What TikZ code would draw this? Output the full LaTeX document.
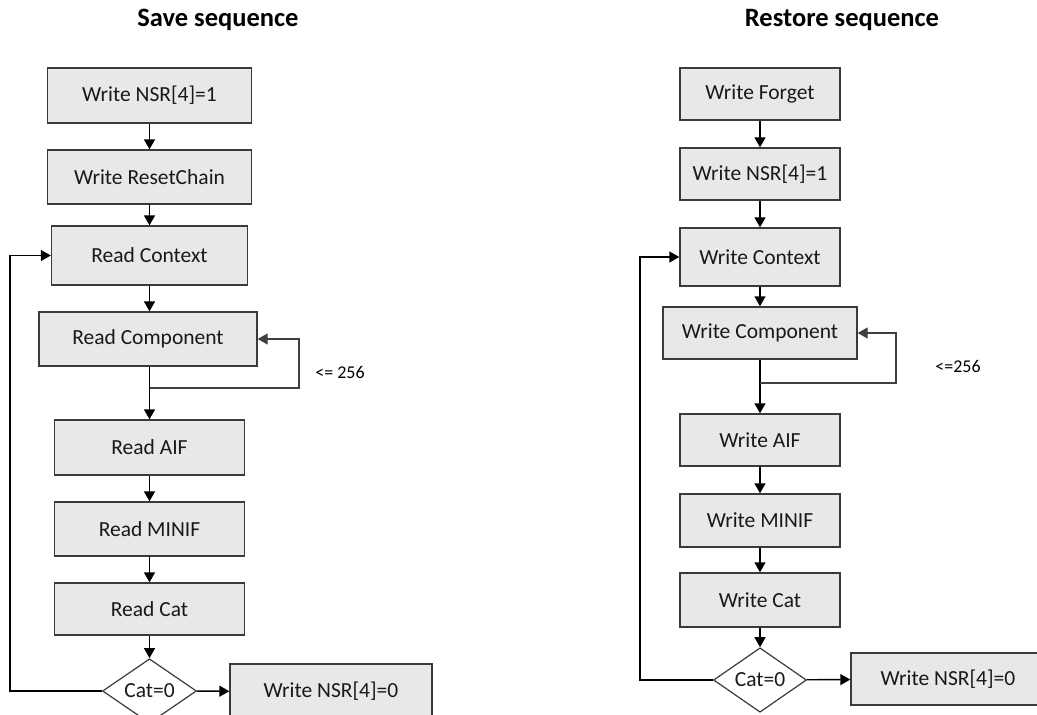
\documentclass[tikz,border=0pt]{standalone}
\usepackage{fontspec}
\setmainfont{Carlito}
\usetikzlibrary{arrows.meta,shapes.geometric}
\definecolor{boxfill}{HTML}{E8E8E8}
\definecolor{boxline}{HTML}{3A3A3A}
\begin{document}
\begin{tikzpicture}[x=1pt,y=-1pt,
  proc/.style={draw=boxline, fill=boxfill, line width=1.4pt, rectangle, inner sep=0pt,
    font=\fontsize{21.5}{24}\selectfont, text=black!90},
  decide/.style={draw=boxline, fill=white, line width=1.2pt, diamond, inner sep=0pt,
    font=\fontsize{21.5}{24}\selectfont, text=black!90},
  arr/.style={draw=black, line width=1.4pt, -{Triangle[length=10pt,width=11pt]}},
  loopline/.style={draw=black!75, line width=1.4pt, -{Triangle[length=10pt,width=11pt]}},
  ttl/.style={font=\fontsize{26.5}{30}\selectfont\bfseries, inner sep=0pt},
  lbl/.style={font=\fontsize{18}{21}\selectfont, inner sep=0pt}]
\useasboundingbox (0,0) rectangle (1037,715);
\clip (0,0) rectangle (1037,715);

% ---- titles
\node[ttl] (tS) at (218,20) {Save sequence};
\node[ttl] (tR) at (842,20) {Restore sequence};

% ---- Save sequence
\node[proc, minimum width=204, minimum height=55] (L1) at (149.5,95.5) {Write NSR[4]=1};
\node[proc, minimum width=204, minimum height=54] (L2) at (149.5,177) {Write ResetChain};
\node[proc, minimum width=196, minimum height=59] (L3) at (149.5,255.5) {Read Context};
\node[proc, minimum width=218, minimum height=54] (L4) at (148,339) {Read Component};
\node[proc, minimum width=190, minimum height=55] (L5) at (149.5,447.5) {Read AIF};
\node[proc, minimum width=190, minimum height=54] (L6) at (149.5,529) {Read MINIF};
\node[proc, minimum width=190, minimum height=52] (L7) at (149.5,609) {Read Cat};
\node[decide, minimum width=94, minimum height=52] (LD) at (149.5,691) {Cat=0};
\node[proc, minimum width=202, minimum height=55] (L8) at (331,691.5) {Write NSR[4]=0};
\node[lbl] (Llbl) at (340,372) {<= 256};

\coordinate (Lj) at (149.5,388);
\coordinate (Lr) at (299,388);
\coordinate (Lb) at (10,691);

\draw[arr] (L1) -- (L2);
\draw[arr] (L2) -- (L3);
\draw[arr] (L3) -- (L4.north -| L3.south);
\draw[arr] (L4.south -| L5.north) -- (L5);
\draw[arr] (L5) -- (L6);
\draw[arr] (L6) -- (L7);
\draw[arr] (L7) -- (LD);
\draw[arr] (LD) -- (L8);
\draw[loopline] (Lj) -- (Lr) |- (L4.east);
\draw[arr] (LD.west) -- (Lb) |- (L3.west);

% ---- Restore sequence
\node[proc, minimum width=160, minimum height=52] (R1) at (760,94) {Write Forget};
\node[proc, minimum width=160, minimum height=52] (R2) at (760,174) {Write NSR[4]=1};
\node[proc, minimum width=160, minimum height=58] (R3) at (760,257) {Write Context};
\node[proc, minimum width=194, minimum height=52] (R4) at (760,333) {Write Component};
\node[proc, minimum width=160, minimum height=52] (R5) at (760,440) {Write AIF};
\node[proc, minimum width=160, minimum height=53] (R6) at (760,520.5) {Write MINIF};
\node[proc, minimum width=160, minimum height=54] (R7) at (760,600) {Write Cat};
\node[decide, minimum width=93, minimum height=54] (RD) at (760,680) {Cat=0};
\node[proc, minimum width=194, minimum height=52] (R8) at (948,679) {Write NSR[4]=0};
\node[lbl] (Rlbl) at (958,366) {<=256};

\coordinate (Rj) at (760,383);
\coordinate (Rr) at (896,383);
\coordinate (Rb) at (640,680);

\draw[arr] (R1) -- (R2);
\draw[arr] (R2) -- (R3);
\draw[arr] (R3) -- (R4);
\draw[arr] (R4) -- (R5);
\draw[arr] (R5) -- (R6);
\draw[arr] (R6) -- (R7);
\draw[arr] (R7) -- (RD);
\draw[arr] (RD) -- (R8);
\draw[loopline] (Rj) -- (Rr) |- (R4.east);
\draw[arr] (RD.west) -- (Rb) |- (R3.west);
\end{tikzpicture}
\end{document}
